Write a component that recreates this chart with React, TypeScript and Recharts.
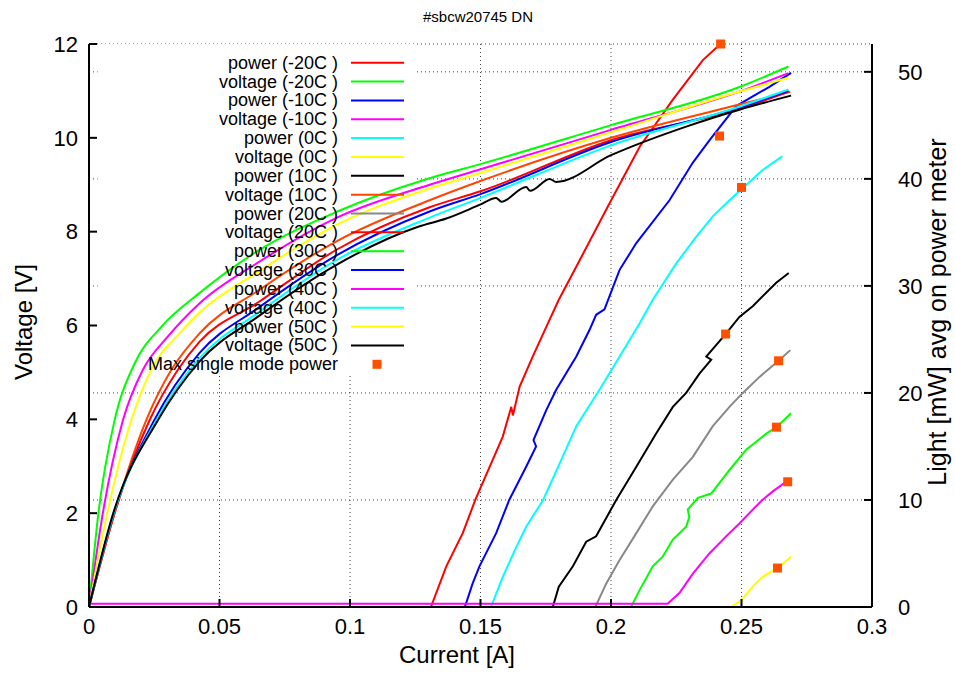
import React from 'react';
import {
  ComposedChart,
  Line,
  Scatter,
  XAxis,
  YAxis,
  CartesianGrid,
  ReferenceArea,
} from 'recharts';

type Pt = [number, number];

const FONT = '"Liberation Sans", Arial, Helvetica, sans-serif';

const temperatures = ['-20C ', '-10C ', '0C ', '10C ', '20C ', '30C ', '40C ', '50C '];
const powerColors = ['#ff0000', '#0000ff', '#00ffff', '#000000', '#888888', '#00ff00', '#ff00ff', '#ffff00'];
const voltageColors = ['#00ff00', '#ff00ff', '#ffff00', '#ff4500', '#ff0000', '#0000ff', '#00ffff', '#000000'];
const markerColor = '#ff5000';

const currentTicks = [0, 0.05, 0.1, 0.15, 0.2, 0.25, 0.3];
const voltageTicks = [0, 2, 4, 6, 8, 10, 12];
const lightTicks = [0, 10, 20, 30, 40, 50];

// light output [mW] vs current [A]
const powerM20: Pt[] = [
  [0, 0], [0.131, 0], [0.1369, 3.8], [0.1432, 6.9], [0.148, 10], [0.1535, 13.1], [0.1585, 15.9],
  [0.1618, 18.7], [0.1624, 17.9], [0.165, 20.6], [0.17, 23.4], [0.1764, 26.8], [0.18, 28.7],
  [0.188, 32.4], [0.1994, 37.7], [0.211, 43.0], [0.2237, 47.4], [0.2352, 51.1], [0.241, 52.4],
];
const powerM10: Pt[] = [
  [0, 0], [0.144, 0], [0.147, 2.2], [0.1496, 3.8], [0.156, 6.9], [0.161, 10], [0.1675, 13.1],
  [0.1713, 15.0], [0.1703, 15.6], [0.1752, 18.4], [0.179, 20.3], [0.1867, 23.4], [0.1918, 25.9],
  [0.1943, 27.3], [0.1975, 27.8], [0.2033, 31.5], [0.2097, 34.0], [0.2224, 38.0], [0.2313, 41.5],
  [0.2377, 43.6], [0.248, 46.8], [0.2543, 47.7], [0.2607, 48.6], [0.269, 49.9],
];
const power0: Pt[] = [
  [0, 0], [0.154, 0], [0.1585, 2.8], [0.1637, 5.6], [0.1675, 7.5], [0.174, 10], [0.1803, 13.4],
  [0.1867, 16.9], [0.1956, 20.3], [0.2033, 23.4], [0.211, 26.5], [0.216, 28.7], [0.225, 32.1],
  [0.2327, 34.6], [0.239, 36.5], [0.2454, 38.0], [0.258, 40.8], [0.2656, 42.1],
];
const power10: Pt[] = [
  [0, 0], [0.1777, 0], [0.18, 1.9], [0.1854, 3.8], [0.1905, 6.1], [0.1943, 6.6], [0.202, 10],
  [0.2097, 13.1], [0.2173, 16.2], [0.2237, 18.7], [0.2288, 20.0], [0.2339, 21.8], [0.2384, 23.1],
  [0.2365, 23.4], [0.2439, 25.5], [0.2492, 27.1], [0.2543, 28.1], [0.2633, 30.3], [0.2681, 31.2],
];
const power20: Pt[] = [
  [0, 0], [0.194, 0], [0.1982, 2.2], [0.2033, 4.4], [0.2097, 6.9], [0.216, 9.4], [0.2237, 11.9],
  [0.2313, 14.0], [0.239, 16.9], [0.2454, 18.7], [0.2505, 20.0], [0.2569, 21.5], [0.2642, 23.0],
  [0.2687, 24.0],
];
const power30: Pt[] = [
  [0, 0], [0.2077, 0], [0.211, 1.6], [0.216, 3.8], [0.2198, 4.7], [0.2237, 6.3], [0.2288, 7.5],
  [0.23, 8.4], [0.2294, 9.1], [0.2333, 10.2], [0.2384, 10.6], [0.2454, 12.8], [0.2518, 14.7],
  [0.2595, 16.2], [0.2634, 16.8], [0.269, 18.1],
];
const power40: Pt[] = [
  [0, 0.3], [0.2217, 0.3], [0.2262, 1.3], [0.2313, 3.1], [0.2377, 5.0], [0.2441, 6.6],
  [0.2492, 7.8], [0.2543, 9.1], [0.258, 10], [0.262, 10.8], [0.2665, 11.6],
];
const power50: Pt[] = [
  [0, 0], [0.246, 0], [0.2499, 0.65], [0.2543, 1.9], [0.258, 2.8], [0.2646, 3.8], [0.269, 4.7],
];

// voltage [V] vs current [A]
const voltageM20: Pt[] = [
  [0, 0], [0.0036, 2.0], [0.0098, 3.98], [0.0174, 5.18], [0.0277, 5.97], [0.0423, 6.69],
  [0.065, 7.6], [0.0947, 8.42], [0.1305, 9.14], [0.15, 9.44], [0.2, 10.27], [0.25, 11.1],
  [0.268, 11.52],
];
const voltageM10: Pt[] = [
  [0, 0], [0.0053, 2.0], [0.013, 3.98], [0.0206, 5.05], [0.03, 5.75], [0.0423, 6.47],
  [0.065, 7.35], [0.095, 8.3], [0.1305, 9.0], [0.15, 9.33], [0.2, 10.17], [0.25, 11.0],
  [0.268, 11.38],
];
const voltage0: Pt[] = [
  [0, 0], [0.007, 2.0], [0.0162, 3.98], [0.0238, 5.05], [0.035, 5.85], [0.0423, 6.27],
  [0.065, 7.15], [0.095, 8.15], [0.1305, 8.92], [0.15, 9.25], [0.2, 10.12], [0.25, 11.0],
  [0.268, 11.28],
];
const voltage10: Pt[] = [
  [0, 0], [0.0098, 2.0], [0.0219, 3.98], [0.0315, 5.05], [0.0423, 5.83], [0.065, 6.75],
  [0.095, 7.8], [0.1305, 8.67], [0.15, 9.08], [0.2, 10.0], [0.25, 10.72], [0.2687, 10.98],
];
const voltage20: Pt[] = [
  [0, 0], [0.0098, 2.0], [0.0232, 3.98], [0.034, 5.05], [0.0423, 5.65], [0.065, 6.5],
  [0.095, 7.62], [0.1305, 8.52], [0.15, 8.86], [0.2, 9.95], [0.25, 10.63], [0.268, 10.98],
];
const voltage30: Pt[] = [
  [0, 0], [0.0095, 2.0], [0.025, 3.98], [0.0423, 5.41], [0.065, 6.38], [0.095, 7.5],
  [0.1305, 8.43], [0.15, 8.8], [0.2, 9.91], [0.25, 10.66], [0.268, 11.0],
];
const voltage40: Pt[] = [
  [0, 0], [0.0095, 2.0], [0.0258, 3.98], [0.0423, 5.3], [0.065, 6.28], [0.095, 7.4],
  [0.1305, 8.3], [0.15, 8.72], [0.2, 9.84], [0.25, 10.68], [0.268, 11.03],
];
const voltage50: Pt[] = [
  [0, 0], [0.0093, 2.0], [0.0264, 3.98], [0.0423, 5.23], [0.065, 6.2], [0.095, 7.3],
  [0.1264, 8.11], [0.1369, 8.28], [0.1496, 8.57], [0.156, 8.72], [0.158, 8.64], [0.1675, 8.95],
  [0.169, 8.87], [0.1765, 9.12], [0.179, 9.06], [0.2, 9.63], [0.2288, 10.24], [0.2492, 10.6],
  [0.269, 10.9],
];

// max single mode power [mW]
const maxSingleMode: Pt[] = [
  [0.242, 52.6], [0.2416, 44.0], [0.25, 39.2], [0.2439, 25.5],
  [0.2642, 23.0], [0.2634, 16.8], [0.2677, 11.7], [0.2638, 3.64],
];

const powerData = [powerM20, powerM10, power0, power10, power20, power30, power40, power50];
const voltageData = [voltageM20, voltageM10, voltage0, voltage10, voltage20, voltage30, voltage40, voltage50];

const toRows = (pts: Pt[]) => pts.map(([x, y]) => ({ x, y }));

const series = temperatures.flatMap((t, i) => [
  { name: `power (${t})`, color: powerColors[i], data: toRows(powerData[i]), axis: 'right', curve: 'linear' },
  { name: `voltage (${t})`, color: voltageColors[i], data: toRows(voltageData[i]), axis: 'left', curve: 'monotone' },
]);

const Square = (props: any) => {
  const { cx, cy } = props;
  if (cx == null || cy == null) return null;
  return <rect x={cx - 4.5} y={cy - 4.5} width={9} height={9} fill={markerColor} />;
};

const tickStyle = { fill: '#000', fontSize: 22, fontFamily: FONT };

export default function App() {
  const rowTop = 62.7;
  const rowStep = 18.85;
  return (
    <div style={{ position: 'absolute', left: 0, top: 0, width: 955, height: 675, background: '#fff' }}>
      <ComposedChart width={955} height={675} margin={{ top: 44, right: 0, bottom: 0, left: 0 }}>
        <CartesianGrid xAxisId="bottom" yAxisId="right" stroke="#444" strokeDasharray="1 3" />
        <XAxis
          xAxisId="bottom"
          dataKey="x"
          type="number"
          domain={[0, 0.3]}
          ticks={currentTicks}
          interval={0}
          height={68}
          tickSize={-8}
          tickMargin={19}
          stroke="#000"
          strokeWidth={2}
          tick={tickStyle}
          tickFormatter={(v: number) => String(v)}
        />
        <XAxis
          xAxisId="top"
          orientation="top"
          dataKey="x"
          type="number"
          domain={[0, 0.3]}
          ticks={currentTicks}
          interval={0}
          height={0}
          tickSize={-8}
          stroke="#000"
          strokeWidth={2}
          tick={false}
        />
        <YAxis
          yAxisId="left"
          dataKey="y"
          type="number"
          domain={[0, 12]}
          ticks={voltageTicks}
          interval={0}
          width={89}
          tickSize={-8}
          tickMargin={19}
          stroke="#000"
          strokeWidth={2}
          tick={tickStyle}
        />
        <YAxis
          yAxisId="right"
          orientation="right"
          dataKey="y"
          type="number"
          domain={[0, 52.6]}
          ticks={lightTicks}
          interval={0}
          width={83}
          tickSize={-8}
          tickMargin={34}
          stroke="#000"
          strokeWidth={2}
          tick={tickStyle}
        />
        {/* key box hides the grid behind it */}
        <ReferenceArea
          xAxisId="bottom"
          yAxisId="left"
          x1={0.0033}
          x2={0.1247}
          y1={4.95}
          y2={12}
          fill="#fff"
          fillOpacity={1}
          stroke="none"
        />
        {series.map((s) => (
          <Line
            key={s.name}
            data={s.data}
            dataKey="y"
            xAxisId="bottom"
            yAxisId={s.axis}
            type={s.curve as any}
            stroke={s.color}
            strokeWidth={2}
            dot={false}
            activeDot={false}
            isAnimationActive={false}
          />
        ))}
        <Scatter
          data={toRows(maxSingleMode)}
          xAxisId="bottom"
          yAxisId="right"
          shape={Square}
          fill={markerColor}
          isAnimationActive={false}
        />
      </ComposedChart>
      <svg
        width={955}
        height={675}
        style={{ position: 'absolute', left: 0, top: 0, pointerEvents: 'none' }}
        fontFamily={FONT}
      >
        <text x={478} y={22} textAnchor="middle" fontSize={15} fill="#000">
          #sbcw20745 DN
        </text>
        <text x={457} y={663} textAnchor="middle" fontSize={24} fill="#000">
          Current [A]
        </text>
        <text x={32} y={322} textAnchor="middle" fontSize={24} fill="#000" transform="rotate(-90 32 322)">
          Voltage [V]
        </text>
        <text x={946} y={312} textAnchor="middle" fontSize={25} fill="#000" transform="rotate(-90 946 312)">
          Light [mW] avg on power meter
        </text>
        {series.map((s, i) => {
          const cy = rowTop + i * rowStep;
          return (
            <g key={s.name}>
              <text x={338} y={cy + 6} textAnchor="end" fontSize={18} fill="#000">
                {s.name}
              </text>
              <line x1={351} x2={404} y1={cy} y2={cy} stroke={s.color} strokeWidth={2} />
            </g>
          );
        })}
        <g>
          <text x={338} y={rowTop + series.length * rowStep + 6} textAnchor="end" fontSize={18} fill="#000">
            Max single mode power
          </text>
          <rect x={372.5} y={rowTop + series.length * rowStep - 4.5} width={9} height={9} fill={markerColor} />
        </g>
      </svg>
    </div>
  );
}
